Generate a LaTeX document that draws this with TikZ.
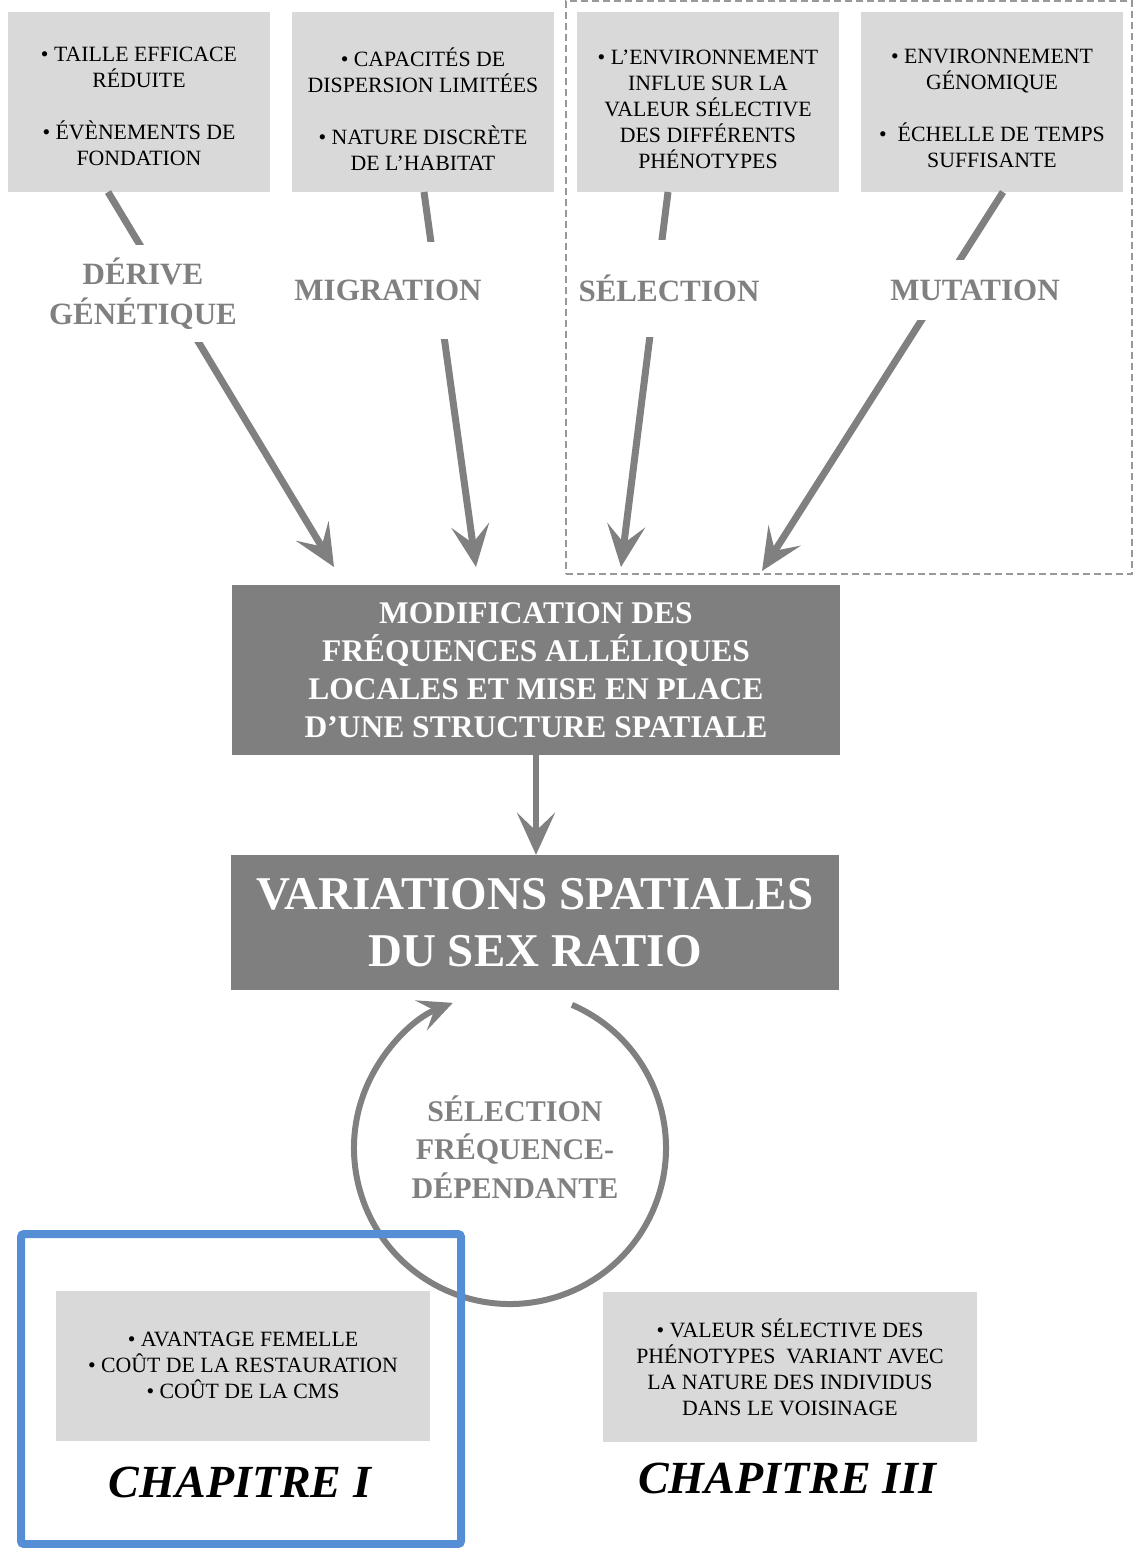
\documentclass[tikz,border=0pt]{standalone}
\usepackage{fontspec}
\setmainfont{Liberation Serif}
\usetikzlibrary{arrows.meta,calc}
\definecolor{lightbox}{HTML}{D9D9D9}
\definecolor{darkfill}{HTML}{7F7F7F}
\definecolor{arrowgray}{HTML}{808080}
\definecolor{dashgray}{HTML}{999999}
\definecolor{blueframe}{HTML}{558ED5}
\newcommand{\toppad}[1]{\rule{0pt}{#1}}
\begin{document}
\begin{tikzpicture}[x=1pt,y=-1pt,
  topbox/.style={fill=lightbox, minimum width=262pt, minimum height=180pt, inner sep=0pt, align=center, font=\fontsize{21.8}{26}\selectfont},
  botbox/.style={fill=lightbox, minimum width=374pt, minimum height=150pt, inner sep=0pt, align=center, font=\fontsize{21.8}{26}\selectfont},
  mainbox/.style={fill=darkfill, text=white, inner sep=0pt, align=center},
  proclabel/.style={fill=white, text=arrowgray, inner xsep=5pt, inner ysep=0pt, minimum height=97pt, align=center, font=\fontsize{31}{40}\selectfont\bfseries},
  flow/.style={draw=arrowgray, line width=7pt, -{Stealth[length=42pt,width=38pt,inset=18pt]}},
  loopflow/.style={draw=arrowgray, line width=6pt, -{Stealth[length=34pt,width=32pt,inset=14pt]}},
  chap/.style={inner sep=0pt, font=\fontsize{46}{50}\selectfont\bfseries\itshape}
]
\useasboundingbox (0,0) rectangle (1134,1548);

% dashed group
\node[draw=dashgray, dashed, dash pattern=on 7pt off 4pt, line width=1.6pt, minimum width=566pt, minimum height=573pt, inner sep=0pt] (selgroup) at (849,287.5) {};

% top boxes
\node[topbox] (b1) at (139,102) {\toppad{23pt}• TAILLE EFFICACE\\ RÉDUITE\\[26pt] • ÉVÈNEMENTS DE\\ FONDATION};
\node[topbox] (b2) at (423,102) {\toppad{33pt}• CAPACITÉS DE\\ DISPERSION LIMITÉES\\[26pt] • NATURE DISCRÈTE\\ DE L’HABITAT};
\node[topbox] (b3) at (708,102) {\toppad{29pt}• L’ENVIRONNEMENT\\ INFLUE SUR LA\\ VALEUR SÉLECTIVE\\ DES DIFFÉRENTS\\ PHÉNOTYPES};
\node[topbox] (b4) at (992,102) {\toppad{28pt}• ENVIRONNEMENT\\ GÉNOMIQUE\\[26pt] •\ \ ÉCHELLE DE TEMPS\\ SUFFISANTE};

% arrow ends
\coordinate (s1) at (108,192);
\coordinate (t1) at (334,567);
\coordinate (s2) at (424,192);
\coordinate (t2) at (476,567);
\coordinate (s3) at (668,192);
\coordinate (t3) at (621,567);
\coordinate (s4) at (1003,192);
\coordinate (t4) at (762,571);

\draw[flow] (s1) -- (t1);
\draw[flow] (s2) -- (t2);
\draw[flow] (s3) -- (t3);
\draw[flow] (s4) -- (t4);

% process labels
\node[proclabel] (derive) at (143,293.5) {DÉRIVE\\GÉNÉTIQUE};
\node[proclabel] (migration) at (388,290.5) {MIGRATION};
\node[proclabel] (selection) at (669,288) {SÉLECTION};
\node[proclabel, minimum height=60pt] (mutation) at (975,290) {MUTATION};

% central boxes
\node[mainbox, minimum width=608pt, minimum height=170pt, font=\fontsize{31.5}{38}\selectfont\bfseries] (modif) at (536,670)
  {MODIFICATION DES\\ FRÉQUENCES ALLÉLIQUES\\ LOCALES ET MISE EN PLACE\\ D’UNE STRUCTURE SPATIALE};
\node[mainbox, minimum width=608pt, minimum height=135pt, font=\fontsize{47}{57}\selectfont\bfseries] (var) at (535,922.5)
  {VARIATIONS SPATIALES\\ DU SEX RATIO};
\draw[flow, line width=6pt] (modif.south) -- (modif.south |- var.north);

% frequency-dependent loop
\coordinate (loopc) at (510,1148);
\draw[loopflow] ($(loopc)+(-66.6:156)$) arc[start angle=-66.6, end angle=248.5, radius=156];
\node[text=arrowgray, inner sep=0pt, align=center, font=\fontsize{30}{38.5}\selectfont\bfseries] (fds) at (515,1147) {SÉLECTION\\ FRÉQUENCE-\\ DÉPENDANTE};

% bottom boxes
\node[botbox] (b5) at (243,1365.5) {• AVANTAGE FEMELLE\\ • COÛT DE LA RESTAURATION\\ • COÛT DE LA CMS};
\node[botbox] (b6) at (790,1367) {• VALEUR SÉLECTIVE DES\\ PHÉNOTYPES\ \ VARIANT AVEC\\ LA NATURE DES INDIVIDUS\\ DANS LE VOISINAGE};

\node[chap] (ch1) at (240,1482) {CHAPITRE I};
\node[chap] (ch3) at (787,1478) {CHAPITRE III};

% chapter I frame
\node[draw=blueframe, line width=8pt, rounded corners=3pt, minimum width=440pt, minimum height=310pt, inner sep=0pt] (frame1) at (241,1389) {};
\end{tikzpicture}
\end{document}
